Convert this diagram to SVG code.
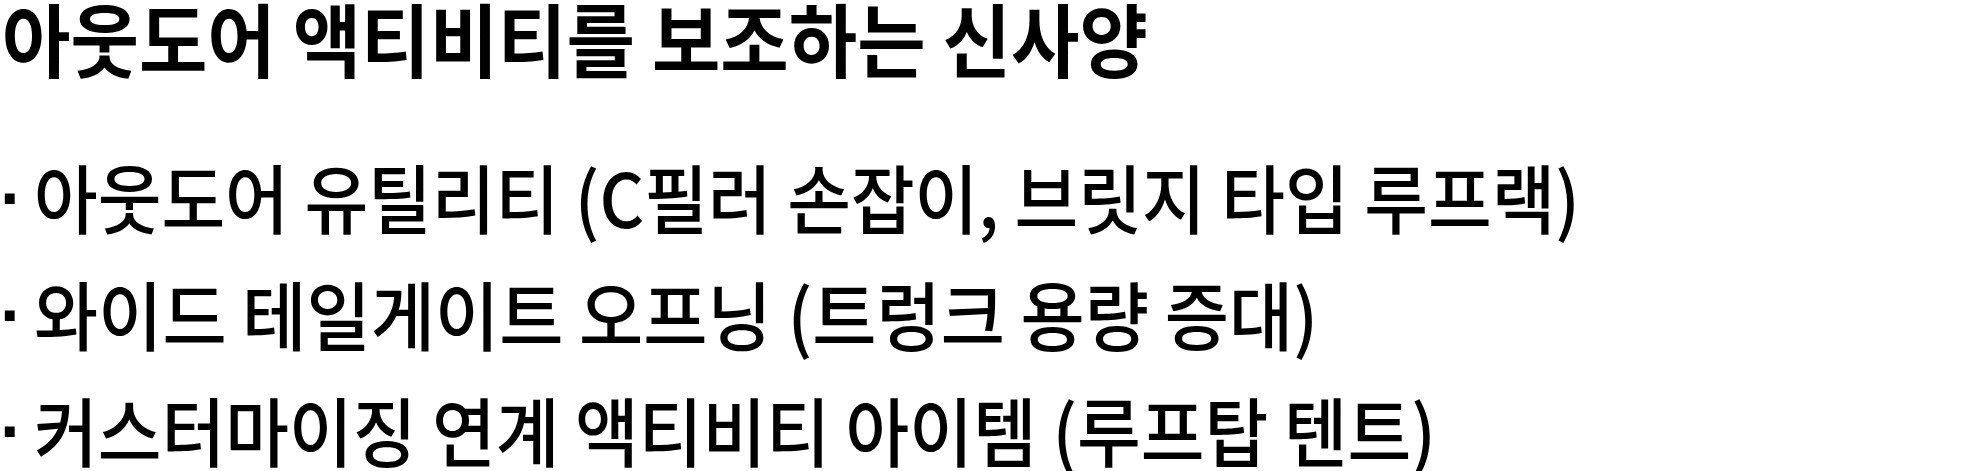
<svg xmlns="http://www.w3.org/2000/svg" width="1985" height="471" viewBox="0 0 1985 471">
<style>
text{font-family:"Noto Sans CJK KR","Noto Sans",sans-serif;fill:#000}
.t{font-size:80px;font-weight:700}
.b{font-size:75px;font-weight:500}
.d{font-family:"Liberation Sans",Arial,sans-serif;font-size:70px;font-weight:700}
</style>
<rect width="1985" height="471" fill="#fff"/>
<g id="title"><text class="t" x="2" y="71" textLength="1146" lengthAdjust="spacingAndGlyphs">아웃도어 액티비티를 보조하는 신사양</text></g>
<g id="item1"><text class="d" x="0" y="222">·</text><text class="b" x="34" y="228" textLength="1546" lengthAdjust="spacingAndGlyphs">아웃도어 유틸리티 (C필러 손잡이, 브릿지 타입 루프랙)</text></g>
<g id="item2"><text class="d" x="0" y="339">·</text><text class="b" x="34" y="345" textLength="1284" lengthAdjust="spacingAndGlyphs">와이드 테일게이트 오프닝 (트렁크 용량 증대)</text></g>
<g id="item3"><text class="d" x="0" y="455">·</text><text class="b" x="34" y="461" textLength="1402" lengthAdjust="spacingAndGlyphs">커스터마이징 연계 액티비티 아이템 (루프탑 텐트)</text></g>
</svg>
